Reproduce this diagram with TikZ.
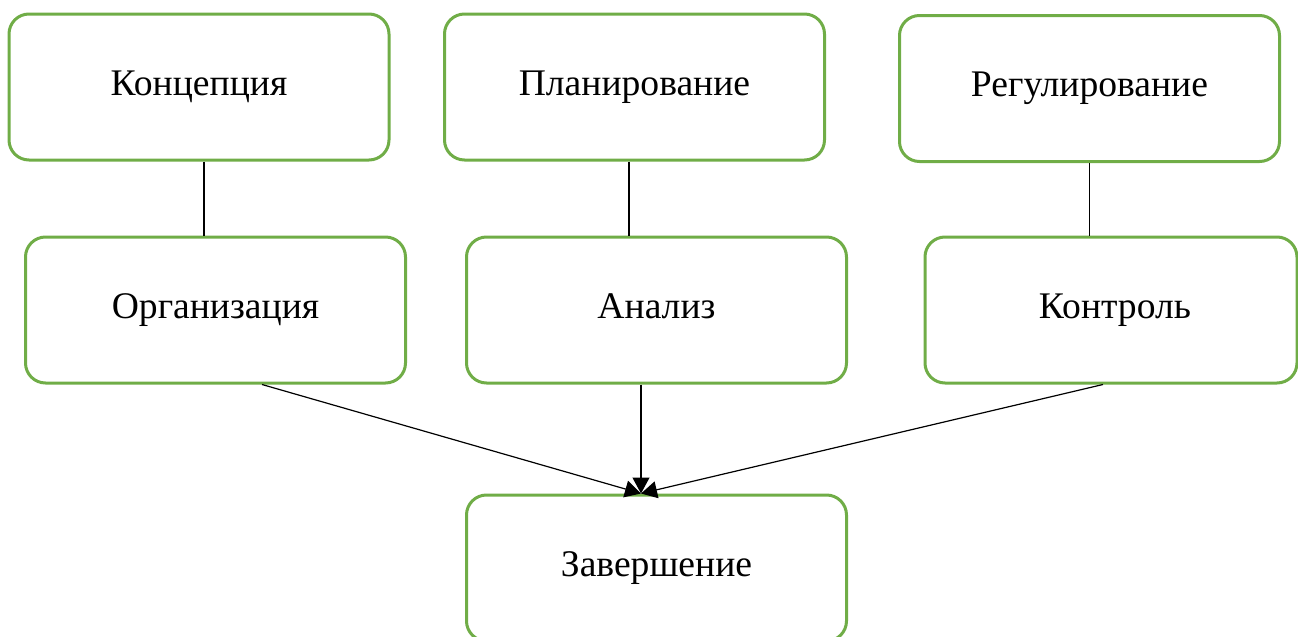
\documentclass[tikz,border=0pt]{standalone}
\usepackage{fontspec}
\setmainfont{Liberation Serif}
\usetikzlibrary{arrows.meta}
\definecolor{stagegreen}{HTML}{70AD47}

\begin{document}
\begin{tikzpicture}[x=0.5pt, y=-0.5pt]
    \tikzset{
        stage/.style={
            draw=stagegreen,
            line width=1.5pt,
            rounded corners=10pt,
            minimum width=190pt,
            minimum height=73pt,
            inner sep=0pt,
            font=\fontsize{18.8}{22}\selectfont,
            text height=12.5pt,
            text depth=4pt,
        },
        link/.style={line width=0.6pt, black},
        flow/.style={link, -{Triangle[length=8pt, width=8.5pt]}},
    }

    \useasboundingbox (0, 0) rectangle (1298, 637);

    % Boxes
    \node[stage] (konz) at (199, 87) {Концепция};
    \node[stage] (plan) at (634.5, 87) {Планирование};
    \node[stage] (reg) at (1089.5, 88.5) {Регулирование};
    \node[stage] (org) at (215.5, 310) {Организация};
    \node[stage] (ana) at (656.5, 310) {Анализ};
    \node[stage, minimum width=186pt] (kon) at (1111, 310) {\hspace{4pt}Контроль};
    \node[stage] (zav) at (656.5, 568) {Завершение};

    % Lines
    \draw[link] ([xshift=2.5pt]konz.south) -- ([xshift=2.5pt]konz.south |- org.north);
    \draw[link] ([xshift=-2.75pt]plan.south) -- ([xshift=-2.75pt]plan.south |- ana.north);
    \draw[link] (reg.south) -- (reg.south |- kon.north);

    % Arrows
    \draw[flow] ([xshift=23.25pt]org.south) -- ([xshift=-7.75pt]zav.north);
    \draw[flow] ([xshift=-7.75pt]ana.south) -- ([xshift=-7.75pt]zav.north);
    \draw[flow] ([xshift=-4pt]kon.south) -- ([xshift=-7.75pt]zav.north);

\end{tikzpicture}
\end{document}
